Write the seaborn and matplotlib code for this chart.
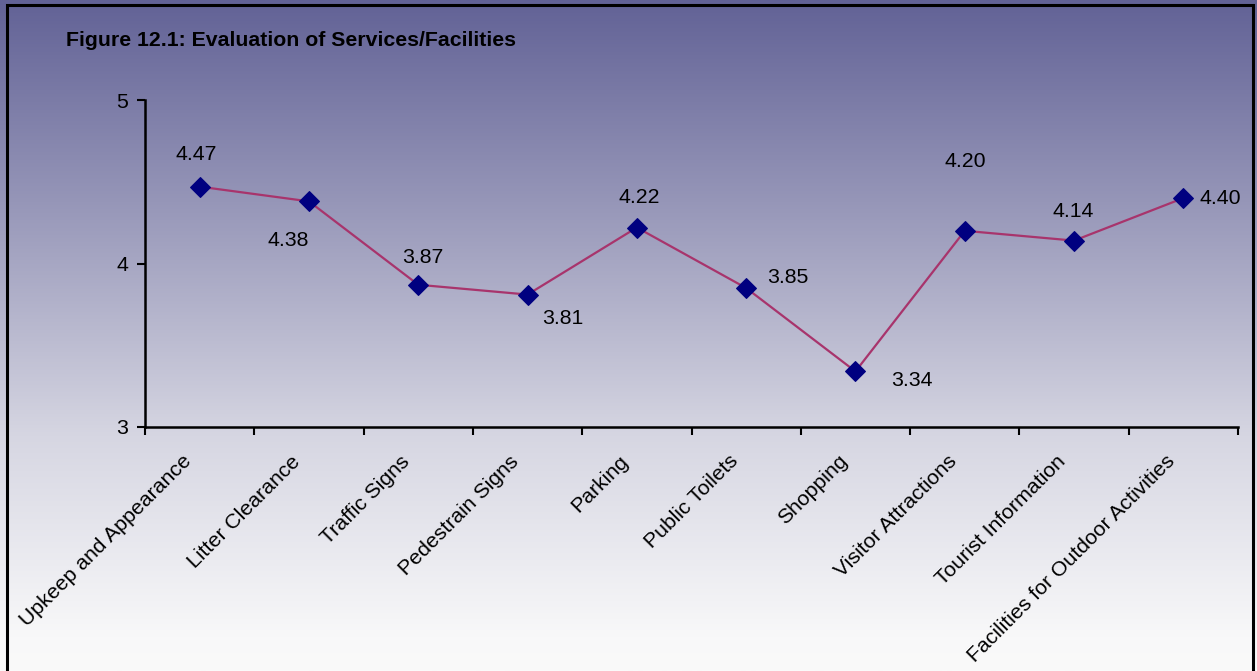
import numpy as np
import pandas as pd
import matplotlib
matplotlib.use("Agg")
import matplotlib.pyplot as plt
import seaborn as sns
from matplotlib.patches import Rectangle
from matplotlib.colors import LinearSegmentedColormap
from matplotlib.transforms import offset_copy, ScaledTranslation

categories = ["Upkeep and Appearance", "Litter Clearance", "Traffic Signs", "Pedestrain Signs",
              "Parking", "Public Toilets", "Shopping", "Visitor Attractions",
              "Tourist Information", "Facilities for Outdoor Activities"]
scores = [4.47, 4.38, 3.87, 3.81, 4.22, 3.85, 3.34, 4.20, 4.14, 4.40]
y_ticks = [3, 4, 5]
title = "Figure 12.1: Evaluation of Services/Facilities"

# label offsets in pixels (dx, dy) relative to each point
label_offsets = [(-3, 32), (-21, -39), (5, 27), (35, -24), (2, 30),
                 (42, 11), (56, -9), (0, 69), (-1, 29), (16, 0)]
label_ha = ["center"] * 9 + ["left"]

sns.set_theme(style="white")
plt.rcParams['font.family'] = ['Liberation Sans', 'DejaVu Sans']

W, H = 1257, 671
dpi = 100
fig = plt.figure(figsize=(W / dpi, H / dpi), dpi=dpi)
fig.patch.set_facecolor("white")

# gradient background
bg = fig.add_axes([0, 0, 1, 1], zorder=-10)
cmap = LinearSegmentedColormap.from_list(
    "bg", [(0.0, (250/255, 250/255, 250/255)),
           (0.05, (248/255, 248/255, 249/255)),
           (0.35, (214/255, 214/255, 226/255)),
           (0.7, (150/255, 150/255, 184/255)),
           (1.0, (98/255, 98/255, 150/255))])
grad = np.linspace(0, 1, 256).reshape(-1, 1)
bg.imshow(grad, aspect="auto", cmap=cmap, origin="lower", extent=[0, 1, 0, 1])
bg.set_axis_off()

# border
fig.patches.append(Rectangle((7 / W, -0.02), (1253 - 7) / W, 1 - 5 / H + 0.02,
                             transform=fig.transFigure, fill=False,
                             edgecolor="black", linewidth=2.2, zorder=10))

left, right = 145 / W, 1238 / W
bottom, top = 1 - 427 / H, 1 - 100 / H
ax = fig.add_axes([left, bottom, right - left, top - bottom])
ax.patch.set_alpha(0)

df = pd.DataFrame({"x": np.arange(len(categories)) + 0.5, "score": scores})
sns.lineplot(data=df, x="x", y="score", ax=ax, color="#A8346C", linewidth=1.6,
             marker="D", markersize=10, markerfacecolor="#000080",
             markeredgecolor="#000080", zorder=3)

FS = 15.3
ax.set_xlim(0, len(categories))
ax.set_ylim(3, 5)
ax.set_yticks(y_ticks)
ax.set_yticklabels([str(t) for t in y_ticks], fontsize=FS, color="black")
ax.set_xticks(np.arange(len(categories) + 1))
ax.set_xticklabels([])
ax.set_xticks(np.arange(len(categories)) + 0.5, minor=True)
ax.set_xticklabels(categories, minor=True, rotation=45, ha="right",
                   rotation_mode="anchor", fontsize=FS, color="black")
ax.tick_params(axis="x", which="minor", length=0, pad=12, bottom=True)
ax.tick_params(axis="x", which="major", length=6, width=1.5, color="black",
               direction="out", bottom=True)
ax.tick_params(axis="y", length=6, width=1.5, color="black", direction="out",
               pad=6, left=True)
shift = ScaledTranslation(-18 / dpi, -8 / dpi, fig.dpi_scale_trans)
for lbl in ax.get_xticklabels(minor=True):
    lbl.set_transform(lbl.get_transform() + shift)
ax.set_xlabel("")
ax.set_ylabel("")
for s in ["top", "right"]:
    ax.spines[s].set_visible(False)
for s in ["left", "bottom"]:
    ax.spines[s].set_color("black")
    ax.spines[s].set_linewidth(1.8)

for i, v in enumerate(scores):
    dx, dy = label_offsets[i]
    tr = offset_copy(ax.transData, fig=fig, x=dx * 72 / dpi, y=dy * 72 / dpi, units="points")
    ax.text(i + 0.5, v, f"{v:.2f}", transform=tr, ha=label_ha[i], va="center",
            fontsize=FS, color="black")

fig.text(66 / W, 1 - 40 / H, title, fontsize=15.3, fontweight="bold",
         ha="left", va="center", color="black")

fig.savefig("out.png", dpi=dpi)
